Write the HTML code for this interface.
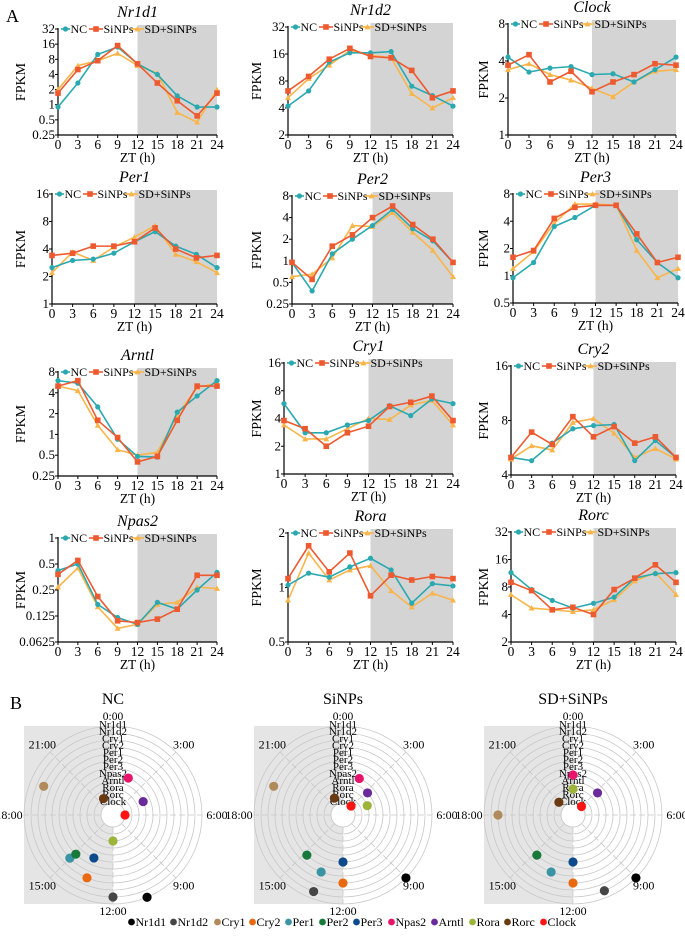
<!DOCTYPE html>
<html><head><meta charset="utf-8">
<style>
html,body{margin:0;padding:0;background:#fff;}
svg{display:block;}
svg text{font-family:"Liberation Serif","DejaVu Serif",serif;}
</style></head>
<body>
<svg id="fig" width="685" height="940" viewBox="0 0 685 940" xmlns="http://www.w3.org/2000/svg" font-family="Liberation Serif, DejaVu Serif, serif">
<text x="6" y="22" font-size="18" font-family="Liberation Serif, serif">A</text>
<text x="10" y="709" font-size="18" font-family="Liberation Serif, serif">B</text>
</svg>
<script>
// ---- shared data ----
const zt = [0,3,6,9,12,15,18,21,24];
const xTickLabels = ["0","3","6","9","12","15","18","21","24"];
const genes = ["Nr1d1","Nr1d2","Clock","Per1","Per2","Per3","Arntl","Cry1","Cry2","Npas2","Rora","Rorc"];
// series values (FPKM)
const nr1d1NC = [0.9,2.7,10,14,6.5,4,1.5,0.9,0.9];
const nr1d1Si = [1.7,5,7.5,15,6.5,2.7,1.2,0.6,1.7];
const nr1d1SD = [2,6,7.5,10.5,6,4.2,0.7,0.45,2];
const nr1d2NC = [4.2,6.2,13,16.5,16.5,17,7,5.5,4.2];
const nr1d2Si = [6.2,9,14,18.5,15,14.5,10.5,5.2,6.2];
const nr1d2SD = [5.2,8.5,12,17.5,15.5,14.5,5.8,4,5.2];
const clockNC = [4.3,3.25,3.5,3.6,3.1,3.15,2.7,3.4,4.3];
const clockSi = [3.7,4.5,2.7,3.3,2.25,2.7,3.1,3.8,3.7];
const clockSD = [3.4,3.8,3.1,2.8,2.4,2.05,2.7,3.3,3.4];
const per1NC = [2.5,3.0,3.1,3.6,4.8,6.2,4.3,3.5,2.5];
const per1Si = [3.4,3.6,4.3,4.3,4.8,6.8,4.0,3.2,3.4];
const per1SD = [2.2,3.7,3.0,4.2,5.4,7.2,3.5,2.9,2.2];
const per2NC = [0.95,0.38,1.25,2.0,3.1,5.2,2.8,1.9,0.95];
const per2Si = [0.95,0.55,1.6,2.3,4.0,5.8,3.2,2.0,0.95];
const per2SD = [0.6,0.65,1.1,3.1,3.0,4.7,2.5,1.4,0.6];
const per3NC = [0.95,1.4,3.5,4.4,6.0,6.0,2.5,1.4,0.95];
const per3Si = [1.6,1.9,4.3,5.7,6.0,6.0,2.9,1.4,1.6];
const per3SD = [1.2,1.85,3.8,6.2,6.2,6.0,1.9,0.95,1.2];
const arntlNC = [6,5.5,2.5,0.85,0.48,0.47,2.1,3.6,6];
const arntlSi = [5,6,1.6,0.9,0.4,0.48,1.6,5,5];
const arntlSD = [5,4.3,1.35,0.6,0.5,0.55,1.9,4.8,5.5];
const cry1NC = [5.8,2.8,2.8,3.4,3.8,5.5,4.3,6.5,5.8];
const cry1Si = [3.8,3.1,2.0,2.8,3.3,5.4,6.0,7.0,3.8];
const cry1SD = [3.4,2.4,2.4,3.1,4.0,3.9,5.6,6.3,3.4];
const cry2NC = [5.0,4.8,6.0,7.2,7.5,7.6,4.8,6.2,5.0];
const cry2Si = [5.0,6.9,5.9,8.4,6.5,7.4,6.0,6.5,5.0];
const cry2SD = [4.9,5.8,5.5,7.8,8.2,6.8,5.0,5.6,4.9];
const npas2NC = [0.42,0.5,0.17,0.12,0.1,0.18,0.15,0.25,0.4];
const npas2Si = [0.38,0.55,0.21,0.11,0.105,0.115,0.15,0.37,0.37];
const npas2SD = [0.27,0.45,0.16,0.09,0.1,0.17,0.18,0.27,0.26];
const roraNC = [1.03,1.2,1.14,1.3,1.45,1.25,0.82,1.05,1.02];
const roraSi = [1.12,1.7,1.22,1.55,0.9,1.17,1.1,1.15,1.12];
const roraSD = [0.85,1.55,1.1,1.25,1.32,0.96,0.78,0.93,0.85];
const rorcNC = [11.5,7.5,5.7,4.7,5.3,6.2,10,11.2,11.5];
const rorcSi = [9,7.3,4.5,4.8,4.0,7.5,10,14,9];
const rorcSD = [6.6,4.7,4.5,4.3,4.5,5.8,9.3,11.5,6.6];
// y tick labels
const ticksNr1d1 = ["0.25","0.5","1","2","4","8","16","32"];
const ticksNr1d2 = ["2","4","8","16","32"];
const ticksClock = ["1","2","4","8"];
const ticksPer1 = ["1","2","4","8","16"];
const ticksPer2 = ["0.25","0.5","1","2","4","8"];
const ticksPer3 = ["0.5","1","2","4","8"];
const ticksArntl = ["0.25","0.5","1","2","4","8"];
const ticksCry1 = ["1","2","4","8","16"];
const ticksCry2 = ["4","8","16"];
const ticksNpas2 = ["0.0625","0.125","0.25","0.5","1"];
const ticksRora = ["0.5","1","2"];
const ticksRorc = ["2","4","8","16","32"];
// phase (h) per gene for polar plots
const polarGenes = ["Nr1d1","Nr1d2","Cry1","Cry2","Per1","Per2","Per3","Npas2","Arntl","Rora","Rorc","Clock"];
const phaseNC = [10.5,12,19.5,13.5,15.0,14.9,13.6,1.5,4.4,12,22,6];
const phaseSi = [9.0,13.4,19.5,12,13.4,14.8,12,1.6,3.2,4.6,22.2,2.8];
const phaseSD = [9.0,10.5,18,12,13.4,14.8,12,0,3.2,0,20.8,3];

const NS="http://www.w3.org/2000/svg";
const svg=document.getElementById('fig');
function mk(tag, attrs, parent){
  const e=document.createElementNS(NS,tag);
  for(const k in attrs)e.setAttribute(k,attrs[k]);
  if(tag==='text') e.setAttribute('font-family','Liberation Serif, DejaVu Serif, serif');
  (parent||svg).appendChild(e);return e;}
const C_NC="#2aa9b0", C_SI="#ee5a2f", C_SD="#f9b54a";

// panel geometry (layout only)
const layout = [
 {g:"Nr1d1",x0:58,x1:217,yt:29,yb:135,ticks:ticksNr1d1,s:[nr1d1NC,nr1d1Si,nr1d1SD],lx:22},
 {g:"Nr1d2",x0:288,x1:453,yt:27,yb:135,ticks:ticksNr1d2,s:[nr1d2NC,nr1d2Si,nr1d2SD],lx:258},
 {g:"Clock",x0:508,x1:676,yt:24,yb:135,ticks:ticksClock,s:[clockNC,clockSi,clockSD],lx:485},
 {g:"Per1",x0:52,x1:217,yt:194,yb:304,ticks:ticksPer1,s:[per1NC,per1Si,per1SD],lx:22},
 {g:"Per2",x0:292,x1:453,yt:196,yb:304,ticks:ticksPer2,s:[per2NC,per2Si,per2SD],lx:258},
 {g:"Per3",x0:513,x1:678,yt:194,yb:303,ticks:ticksPer3,s:[per3NC,per3Si,per3SD],lx:485},
 {g:"Arntl",x0:58,x1:217,yt:372,yb:476,ticks:ticksArntl,s:[arntlNC,arntlSi,arntlSD],lx:22},
 {g:"Cry1",x0:284,x1:453,yt:363,yb:474,ticks:ticksCry1,s:[cry1NC,cry1Si,cry1SD],lx:258},
 {g:"Cry2",x0:511,x1:676,yt:366,yb:475,ticks:ticksCry2,s:[cry2NC,cry2Si,cry2SD],lx:485},
 {g:"Npas2",x0:58,x1:217,yt:538,yb:642,ticks:ticksNpas2,s:[npas2NC,npas2Si,npas2SD],lx:22},
 {g:"Rora",x0:288,x1:453,yt:533,yb:642,ticks:ticksRora,s:[roraNC,roraSi,roraSD],lx:258},
 {g:"Rorc",x0:511,x1:676,yt:532,yb:642,ticks:ticksRorc,s:[rorcNC,rorcSi,rorcSD],lx:485}
];

function marker(type,x,y,color,parent){
  let m;
  if(type===0){m=mk('circle',{cx:x,cy:y,r:2.6,fill:color},parent);}
  else if(type===1){m=mk('rect',{x:x-2.8,y:y-2.8,width:5.6,height:5.6,fill:color},parent);}
  else {m=mk('polygon',{points:`${x},${y-3} ${x+3},${y+2.4} ${x-3},${y+2.4}`,fill:color},parent);}
  return m;
}

layout.forEach(p=>{
  const key=p.g.toLowerCase();
  const g=mk('g',{});
  
  
  const lo=Math.log2(parseFloat(p.ticks[0])), hi=Math.log2(parseFloat(p.ticks[p.ticks.length-1]));
  const ys=v=>p.yb-(Math.log2(v)-lo)/(hi-lo)*(p.yb-p.yt);
  const xs=t=>p.x0+t/24*(p.x1-p.x0);
  const sh=mk('rect',{x:xs(12),y:p.yt-4,width:p.x1-xs(12),height:p.yb-p.yt+4,fill:"#d4d4d4"},g);
  
  
  const t=mk('text',{x:(p.x0+p.x1)/2,y:p.yt-12,'font-size':16,'font-style':'italic','text-anchor':'middle'},g);
  t.textContent=p.g;
  
  
  const ya=mk('line',{x1:p.x0,y1:p.yt-1,x2:p.x0,y2:p.yb,stroke:"#000",'stroke-width':1.2},g);
  
  
  const xa=mk('line',{x1:p.x0,y1:p.yb,x2:p.x1,y2:p.yb,stroke:"#000",'stroke-width':1.2},g);
  
  
  p.ticks.forEach(tl=>{
    const y=ys(parseFloat(tl));
    mk('line',{x1:p.x0-3,y1:y,x2:p.x0,y2:y,stroke:"#000"},g);
    const tt=mk('text',{x:p.x0-3,y:y+4,'font-size':13,'text-anchor':'end'},g);
    tt.textContent=tl;
    
    
  });
  zt.forEach((z,i)=>{
    const x=xs(z);
    mk('line',{x1:x,y1:p.yb,x2:x,y2:p.yb+3,stroke:"#000"},g);
    const tt=mk('text',{x:x,y:p.yb+14,'font-size':13.5,'text-anchor':'middle'},g);
    tt.textContent=xTickLabels[i];
    
    
  });
  const xt=mk('text',{x:(p.x0+p.x1)/2,y:p.yb+27,'font-size':13.5,'text-anchor':'middle'},g);
  xt.textContent="ZT (h)";
  
  
  const yt=mk('text',{x:p.lx,y:(p.yt+p.yb)/2,'font-size':14,'text-anchor':'middle',transform:`rotate(-90 ${p.lx} ${(p.yt+p.yb)/2})`,'dominant-baseline':'middle'},g);
  yt.textContent="FPKM";
  
  
  const cols=[C_NC,C_SI,C_SD], names=["nc","sinps","sd-sinps"];
  [2,0,1].forEach(si=>{
    const vals=p.s[si];
    const pts=vals.map((v,i)=>xs(zt[i])+','+ys(v)).join(' ');
    const pl=mk('polyline',{points:pts,fill:'none',stroke:cols[si],'stroke-width':1.6},g);
    
    
    vals.forEach((v,i)=>{
      const m=marker(si,xs(zt[i]),ys(v),cols[si],g);
      
      
    });
  });
  const lg=[["NC",3,12],["SiNPs",31,45],["SD+SiNPs",73,86]];
  lg.forEach((L,i)=>{
    const ly=p.yt;
    const ll=mk('line',{x1:p.x0+L[1],y1:ly,x2:p.x0+L[2],y2:ly,stroke:cols[i],'stroke-width':1.6},g);
    
    
    const lm=marker(i,p.x0+(L[1]+L[2])/2,ly,cols[i],g);
    
    
    const lt=mk('text',{x:p.x0+L[2]+0.5,y:ly+4,'font-size':12},g);
    lt.textContent=L[0];
    
    
  });
});

// ---- polar phase plots ----
const polarColors=["#000000","#454545","#b08a5a","#e8690f","#3a94a4","#177a3a","#0c4a8c","#e8146b","#6a2a9a","#9cb43a","#6a3a10","#ff1414"];
const polars=[{t:"NC",cx:113,ph:phaseNC},{t:"SiNPs",cx:343,ph:phaseSi},{t:"SD+SiNPs",cx:573,ph:phaseSD}];
const cy=815, R=89;
polars.forEach(P=>{
  const g=mk('g',{});
  
  
  const bg=mk('rect',{x:P.cx-R,y:cy-R,width:R,height:2*R,fill:"#e5e5e5"},g);
  
  
  const ttl=mk('text',{x:P.cx,y:704,'font-size':16,'text-anchor':'middle'},g);
  ttl.textContent=P.t;
  
  
  for(let i=0;i<12;i++){
    const c=mk('circle',{cx:P.cx,cy:cy,r:R-7*i,fill:'none',stroke:'#c8c8c8','stroke-width':0.8},g);
    
    
  }
  const hole=mk('circle',{cx:P.cx,cy:cy,r:12,fill:'#fff',stroke:'#c8c8c8','stroke-width':0.8},g);
  
  
  for(let h=0;h<24;h+=3){
    const a=h/24*2*Math.PI;
    const sp=mk('line',{x1:P.cx+12*Math.sin(a),y1:cy-12*Math.cos(a),x2:P.cx+R*Math.sin(a),y2:cy-R*Math.cos(a),stroke:'#c8c8c8','stroke-width':0.8,'stroke-dasharray':'6 3'},g);
    
    
    if(h===0) continue;
    const rr=(h===12)?96:(h===6||h===18)?104:100;
    const hl=mk('text',{x:P.cx+rr*Math.sin(a),y:cy-rr*Math.cos(a)+4,'font-size':12,'text-anchor':'middle'},g);
    hl.textContent=h+":00";
    
    
  }
  const zl=mk('text',{x:P.cx,y:cy-R-6,'font-size':11.5,'text-anchor':'middle'},g);
  zl.textContent="0:00";
  
  
  polarGenes.forEach((gn,i)=>{
    const r=R-7*i;
    const gl=mk('text',{x:P.cx,y:cy-r+2,'font-size':11,'text-anchor':'middle'},g);
    gl.textContent=gn;
    
    
  });
  polarGenes.forEach((gn,i)=>{
    const r=R-7*i, a=P.ph[i]/24*2*Math.PI;
    const d=mk('circle',{cx:P.cx+r*Math.sin(a),cy:cy-r*Math.cos(a),r:4.6,fill:polarColors[i]},g);
    
    
  });
});
let lx=128;
const lgW=[34,36,27,28,26,26,27,35,30,27,28,31];
polarGenes.forEach((gn,i)=>{
  const d=mk('circle',{cx:lx+3.5,cy:922,r:3.4,fill:polarColors[i]});
  
  
  const t=mk('text',{x:lx+7.5,y:926,'font-size':12});
  t.textContent=gn;
  
  
  lx+=lgW[i]+8;
});
</script>
</body></html>
